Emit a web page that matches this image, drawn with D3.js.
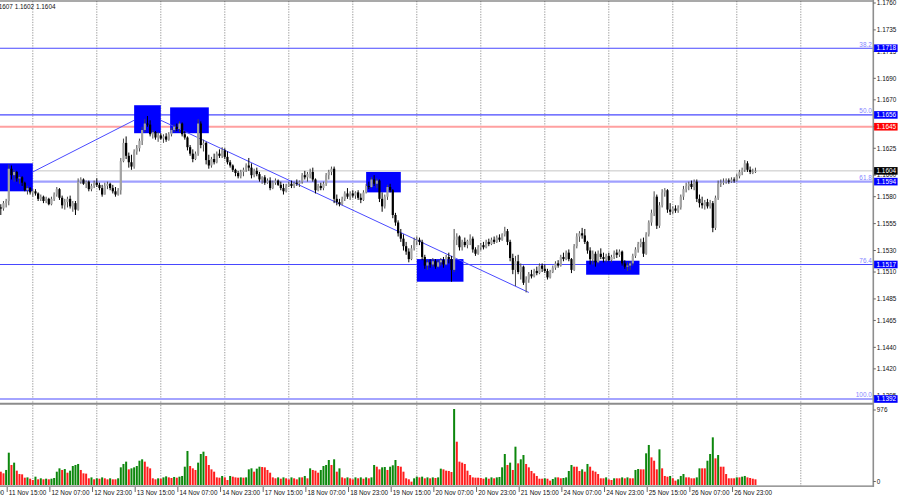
<!DOCTYPE html>
<html><head><meta charset="utf-8">
<script src="https://cdn.jsdelivr.net/npm/d3@7/dist/d3.min.js"></script>
<style>
body{margin:0;background:#fff}
svg{display:block}
text{font-family:"Liberation Sans",Arial,sans-serif}
</style>
</head><body>
<svg id="chart" width="900" height="500"></svg>
<script>
// ---------- DATA (prices in points above 1.0000, e.g. 1570 = 1.1570) ----------
const opens = [
1570,1569,1574,1576,1606,1600,1603,1597,1598,1593,
1586,1588,1584,1585,1583,1578,1580,1576,1578,1573,
1578,1582,1587,1579,1572,1575,1578,1571,1574,1568,
1594,1596,1592,1594,1587,1590,1593,1591,1588,1582,
1590,1592,1588,1585,1582,1586,1613,1630,1618,1612,
1608,1622,1625,1632,1642,1648,1647,1638,1640,1635,
1637,1634,1636,1633,1638,1642,1645,1643,1648,1638,
1635,1626,1620,1615,1620,1648,1628,1630,1614,1609,
1615,1612,1620,1618,1623,1617,1612,1609,1605,1602,
1599,1603,1605,1609,1607,1600,1604,1601,1596,1598,
1593,1595,1588,1593,1595,1591,1588,1585,1590,1592,
1590,1593,1592,1594,1600,1598,1601,1603,1596,1586,
1590,1588,1592,1600,1603,1606,1578,1575,1573,1578,
1583,1580,1583,1581,1584,1579,1577,1584,1590,1589,
1596,1592,1595,1578,1571,1580,1589,1586,1563,1556,
1546,1541,1534,1529,1522,1532,1539,1540,1538,1524,
1516,1519,1517,1520,1515,1519,1521,1517,1524,1522,
1512,1540,1543,1533,1538,1535,1539,1541,1531,1527,
1533,1535,1533,1538,1536,1540,1538,1542,1540,1545,
1548,1538,1523,1512,1520,1510,1515,1500,1503,1508,
1506,1511,1509,1516,1513,1511,1505,1510,1514,1518,
1516,1524,1522,1528,1522,1512,1534,1543,1546,1544,
1538,1530,1522,1527,1519,1527,1524,1522,1525,1521,
1524,1528,1526,1529,1518,1515,1516,1518,1525,1531,
1536,1538,1527,1545,1556,1565,1580,1553,1572,1584,
1586,1568,1566,1569,1567,1570,1580,1587,1590,1592,
1589,1594,1578,1574,1572,1575,1571,1574,1551,1579,
1592,1593,1594,1595,1594,1596,1595,1599,1603,1605,
1611,1605,1603,1603];
const highs = [
1573,1576,1578,1610,1609,1605,1604,1600,1599,1594,
1590,1589,1587,1587,1584,1582,1581,1580,1579,1580,
1584,1589,1588,1581,1578,1580,1581,1576,1576,1597,
1598,1597,1595,1595,1592,1595,1597,1593,1591,1593,
1594,1593,1591,1589,1588,1616,1634,1636,1621,1619,
1624,1628,1634,1645,1652,1655,1651,1642,1641,1640,
1639,1638,1639,1640,1644,1647,1648,1650,1649,1641,
1636,1628,1624,1622,1652,1650,1633,1631,1619,1617,
1620,1622,1624,1626,1625,1622,1614,1610,1606,1604,
1605,1607,1611,1616,1611,1606,1607,1603,1599,1600,
1597,1598,1595,1597,1596,1594,1592,1592,1594,1595,
1594,1596,1595,1602,1604,1603,1606,1607,1597,1592,
1593,1594,1602,1605,1608,1608,1582,1578,1580,1585,
1588,1585,1586,1585,1586,1583,1586,1592,1594,1598,
1600,1597,1596,1584,1582,1591,1592,1587,1565,1558,
1550,1545,1538,1532,1535,1542,1543,1542,1540,1526,
1521,1522,1523,1522,1521,1523,1524,1526,1528,1525,
1550,1546,1544,1540,1542,1540,1545,1543,1533,1535,
1537,1538,1540,1541,1542,1543,1544,1545,1546,1552,
1550,1540,1527,1525,1526,1518,1516,1506,1510,1512,
1513,1515,1518,1518,1517,1513,1512,1516,1520,1521,
1526,1528,1530,1531,1523,1536,1546,1548,1551,1550,
1539,1533,1530,1529,1530,1532,1528,1527,1528,1526,
1530,1531,1531,1530,1521,1519,1520,1527,1533,1538,
1541,1542,1547,1558,1568,1585,1582,1575,1587,1588,
1587,1574,1571,1572,1572,1582,1590,1593,1594,1595,
1596,1596,1582,1580,1577,1578,1577,1576,1581,1595,
1596,1597,1597,1597,1598,1598,1601,1605,1607,1614,
1613,1608,1606,1607];
const lows = [
1563,1567,1570,1572,1596,1594,1594,1592,1590,1585,
1582,1582,1580,1581,1576,1576,1574,1574,1572,1572,
1576,1580,1577,1569,1568,1570,1569,1566,1563,1567,
1592,1591,1588,1585,1585,1588,1589,1586,1580,1582,
1587,1586,1583,1580,1581,1582,1612,1615,1607,1605,
1606,1619,1622,1628,1640,1645,1636,1634,1633,1631,
1633,1630,1631,1632,1636,1640,1641,1640,1636,1633,
1623,1618,1612,1614,1618,1625,1622,1610,1606,1607,
1610,1611,1616,1616,1615,1610,1607,1603,1599,1597,
1597,1599,1603,1604,1597,1598,1599,1594,1592,1591,
1592,1586,1587,1591,1590,1586,1582,1584,1589,1588,
1588,1590,1589,1592,1596,1594,1597,1594,1583,1585,
1586,1586,1590,1596,1600,1574,1572,1571,1572,1576,
1578,1577,1579,1578,1577,1574,1576,1583,1587,1588,
1590,1588,1575,1566,1569,1577,1584,1560,1553,1543,
1538,1530,1526,1519,1521,1530,1535,1535,1521,1513,
1512,1514,1515,1513,1514,1516,1514,1516,1518,1501,
1510,1535,1530,1530,1533,1532,1535,1528,1525,1526,
1530,1531,1532,1534,1535,1536,1537,1538,1539,1543,
1535,1520,1508,1497,1508,1503,1498,1491,1500,1504,
1505,1507,1508,1510,1509,1503,1504,1509,1512,1514,
1515,1520,1521,1520,1509,1511,1532,1538,1541,1536,
1527,1517,1517,1515,1518,1522,1519,1519,1520,1519,
1522,1523,1524,1516,1513,1511,1512,1516,1523,1528,
1533,1524,1526,1543,1553,1562,1550,1551,1570,1580,
1565,1563,1564,1565,1565,1568,1577,1584,1586,1587,
1586,1575,1570,1569,1568,1569,1569,1547,1549,1577,
1589,1591,1592,1592,1593,1593,1594,1597,1600,1603,
1603,1601,1601,1602];
const closes = [
1569,1574,1576,1606,1600,1603,1597,1598,1593,1586,
1588,1584,1585,1583,1578,1580,1576,1578,1573,1578,
1582,1587,1579,1572,1575,1578,1571,1574,1568,1594,
1596,1592,1594,1587,1590,1593,1591,1588,1582,1590,
1592,1588,1585,1582,1586,1613,1630,1618,1612,1608,
1622,1625,1632,1642,1648,1647,1638,1640,1635,1637,
1634,1636,1633,1638,1642,1645,1643,1648,1638,1635,
1626,1620,1615,1620,1648,1628,1630,1614,1609,1615,
1612,1620,1618,1623,1617,1612,1609,1605,1602,1599,
1603,1605,1609,1607,1600,1604,1601,1596,1598,1593,
1595,1588,1593,1595,1591,1588,1585,1590,1592,1590,
1593,1592,1594,1600,1598,1601,1603,1596,1586,1590,
1588,1592,1600,1603,1606,1578,1575,1573,1578,1583,
1580,1583,1581,1584,1579,1577,1584,1590,1589,1596,
1592,1595,1578,1571,1580,1589,1586,1563,1556,1546,
1541,1534,1529,1522,1532,1539,1540,1538,1524,1516,
1519,1517,1520,1515,1519,1521,1517,1524,1522,1512,
1540,1543,1533,1538,1535,1539,1541,1531,1527,1533,
1535,1533,1538,1536,1540,1538,1542,1540,1545,1548,
1538,1523,1512,1520,1510,1515,1500,1503,1508,1506,
1511,1509,1516,1513,1511,1505,1510,1514,1518,1516,
1524,1522,1528,1522,1512,1534,1543,1546,1544,1538,
1530,1522,1527,1519,1527,1524,1522,1525,1521,1524,
1528,1526,1529,1518,1515,1516,1518,1525,1531,1536,
1538,1527,1545,1556,1565,1580,1553,1572,1584,1586,
1568,1566,1569,1567,1570,1580,1587,1590,1592,1589,
1594,1578,1574,1572,1575,1571,1574,1551,1579,1592,
1593,1594,1595,1594,1596,1595,1599,1603,1605,1611,
1605,1603,1603,1604];
const volumes = [
171,150,193,415,257,287,184,141,137,94,
98,81,64,107,73,86,73,81,73,81,
90,171,214,193,205,158,184,244,257,270,
193,150,146,86,98,73,86,81,98,86,
73,86,73,73,86,227,270,300,201,214,
227,244,312,330,300,235,214,86,73,86,
81,98,111,98,90,103,94,107,116,235,
437,244,214,193,287,398,428,372,257,201,
171,98,94,116,98,64,116,107,98,94,
98,94,98,201,214,171,210,235,231,227,
193,158,98,86,98,81,98,86,73,98,
86,73,98,98,116,86,214,193,184,158,
193,244,257,321,257,330,171,214,98,86,
98,86,73,98,86,98,81,98,86,98,
257,235,201,227,231,193,235,253,321,244,
235,171,86,73,43,86,107,98,107,86,
98,86,98,90,98,210,201,184,180,167,
976,556,300,287,270,184,128,98,94,94,
90,81,98,81,98,86,98,103,227,398,
257,287,193,492,278,330,385,270,227,180,
150,116,81,81,86,81,56,77,98,98,
86,90,98,180,257,235,235,180,201,171,
270,235,184,171,141,86,86,98,73,64,
86,86,86,98,86,98,86,86,193,205,
201,201,407,514,355,312,201,458,214,116,
107,116,86,56,73,116,141,98,98,86,
86,98,214,214,214,312,398,612,342,385,
235,235,141,86,86,86,98,98,107,116,
98,90,81,73];

// time axis labels (bar index, text)
const timeLabelBars = [-13,3,19,35,51,67,83,99,115,131,147,163,179,195,211,227,243,259,275];
const timeLabels = ["10 Nov 23:00","11 Nov 15:00","12 Nov 07:00","12 Nov 23:00","13 Nov 15:00",
  "14 Nov 07:00","14 Nov 23:00","17 Nov 15:00","18 Nov 07:00","18 Nov 23:00","19 Nov 15:00",
  "20 Nov 07:00","20 Nov 23:00","21 Nov 15:00","24 Nov 07:00","24 Nov 23:00","25 Nov 15:00",
  "26 Nov 07:00","26 Nov 23:00"];
// day-start bars (vertical grid)
const dayStartBars = [12,36,60,84,108,132,156,180,204,228,252,276,300];
// price axis tick labels
const priceTicks = ["1.1760","1.1735","1.1715","1.1690","1.1670","1.1645","1.1625","1.1600",
  "1.1580","1.1555","1.1530","1.1510","1.1485","1.1465","1.1440","1.1420","1.1395"];
// Fibonacci levels
const fibPrices = [1.1718, 1.1656, 1.1594, 1.1517, 1.1392];
const fibNames = ["38.2","50.0","61.8","76.4","100.0"];
const resistancePrice = 1.1645;
const lastPrice = 1.1604;
const volumeMax = 976;
// blue zones: [start bar, end bar], [low price, high price]
const zoneStart = [-1, 50, 63.5, 137, 156, 219.5];
const zoneEnd   = [12, 60, 78, 150, 173.5, 239.5];
const zoneLow   = [1.1585, 1.1639, 1.1639, 1.1584, 1.1501, 1.15075];
const zoneHigh  = [1.1611, 1.1665, 1.1663, 1.1603, 1.1522, 1.15205];
// trend lines: start/end [bar, price]
const trendStart = [[12, 1.1603], [60, 1.1651]];
const trendEnd   = [[50, 1.1651], [198, 1.1491]];
const headerText = "EURUSD,H1  1.1603 1.1607 1.1602 1.1604";

// ---------- RENDER ----------
const P = v => 1 + v / 10000;
const n = closes.length;
const svg = d3.select('#chart');
const x = d3.scaleLinear().domain([0, 300]).range([0.8, 800.8]);
const y = d3.scaleLinear().domain([1.1392, 1.1760]).range([399, 3]);
const yv = d3.scaleLinear().domain([0, volumeMax]).range([485, 409]);
const AX = 873.3;
const FS = 6.4;

const defs = svg.append('defs');
defs.append('clipPath').attr('id','cm').append('rect').attr('x',0).attr('y',1).attr('width',AX-0.5).attr('height',402);
defs.append('clipPath').attr('id','cv').append('rect').attr('x',0).attr('y',405).attr('width',AX-0.5).attr('height',81);
const main = svg.append('g').attr('clip-path','url(#cm)');
const vol = svg.append('g').attr('clip-path','url(#cv)');

// grid
[[main,1,403],[vol,405,486]].forEach(([g,a,b]) => {
  g.append('g').selectAll('line').data(dayStartBars).join('line')
    .attr('x1',d=>x(d)).attr('x2',d=>x(d)).attr('y1',a).attr('y2',b)
    .attr('stroke','#9a9a9a').attr('stroke-width',1).attr('stroke-dasharray','1.3,1.3');
});

// horizontal levels
const fibColor = ['#4848ff','#4848ff','#a0a0ff','#4848ff','#a4a4ff'];
const fibWidth = [1.1,1.1,2.4,1.1,2.1];
main.append('g').selectAll('line').data(fibPrices).join('line')
  .attr('x1',0).attr('x2',AX).attr('y1',d=>y(d)).attr('y2',d=>y(d))
  .attr('stroke',(d,i)=>fibColor[i]).attr('stroke-width',(d,i)=>fibWidth[i]);
main.append('line').attr('x1',0).attr('x2',AX).attr('y1',y(resistancePrice)).attr('y2',y(resistancePrice))
  .attr('stroke','#ffa0a0').attr('stroke-width',2.2);
main.append('line').attr('x1',0).attr('x2',AX).attr('y1',y(lastPrice)).attr('y2',y(lastPrice))
  .attr('stroke','#c6c6c6').attr('stroke-width',1);

// zones
main.append('g').selectAll('rect').data(zoneStart).join('rect')
  .attr('x',(d,i)=>x(zoneStart[i])).attr('width',(d,i)=>x(zoneEnd[i])-x(zoneStart[i]))
  .attr('y',(d,i)=>y(zoneHigh[i])).attr('height',(d,i)=>y(zoneLow[i])-y(zoneHigh[i]))
  .attr('fill','#0000ff');

// trend lines
main.append('g').selectAll('line').data(trendStart).join('line')
  .attr('x1',d=>x(d[0])).attr('y1',d=>y(d[1]))
  .attr('x2',(d,i)=>x(trendEnd[i][0])).attr('y2',(d,i)=>y(trendEnd[i][1]))
  .attr('stroke','#4a4aff').attr('stroke-width',1);

// candles
const idx = d3.range(n);
const cg = main.append('g');
cg.selectAll('line').data(idx).join('line')
  .attr('x1',i=>x(i)).attr('x2',i=>x(i))
  .attr('y1',i=>y(P(highs[i]))).attr('y2',i=>y(P(lows[i])))
  .attr('stroke',i=>closes[i]>=opens[i]?'#4a4a4a':'#000').attr('stroke-width',1);
cg.selectAll('rect').data(idx).join('rect')
  .attr('x',i=>x(i)-1.1).attr('width',2.2)
  .attr('y',i=>y(P(Math.max(opens[i],closes[i]))))
  .attr('height',i=>Math.max(1, y(P(Math.min(opens[i],closes[i])))-y(P(Math.max(opens[i],closes[i])))))
  .attr('fill',i=>closes[i]>=opens[i]?'#a2a2a2':'#000');

// volumes
vol.append('g').selectAll('rect').data(idx).join('rect')
  .attr('x',i=>x(i)-1).attr('width',2)
  .attr('y',i=>yv(volumes[i])).attr('height',i=>yv(0)-yv(volumes[i]))
  .attr('fill',i=>(i>0 && volumes[i]>volumes[i-1])?'#0c870c':'#ff1c1c');

// frames
svg.append('line').attr('x1',0).attr('x2',AX).attr('y1',1).attr('y2',1).attr('stroke','#555').attr('stroke-width',1.2);
svg.append('line').attr('x1',0).attr('x2',AX).attr('y1',403.8).attr('y2',403.8).attr('stroke','#8c8c8c').attr('stroke-width',2);
svg.append('line').attr('x1',0).attr('x2',AX).attr('y1',486.2).attr('y2',486.2).attr('stroke','#7a7a7a').attr('stroke-width',1.3);
svg.append('line').attr('x1',AX).attr('x2',AX).attr('y1',0).attr('y2',487).attr('stroke','#8e8e8e').attr('stroke-width',1.6);

// price axis
const pa = svg.append('g');
pa.selectAll('line').data(priceTicks).join('line')
  .attr('x1',AX).attr('x2',AX+2.5).attr('y1',d=>y(+d)).attr('y2',d=>y(+d)).attr('stroke','#666');
pa.selectAll('text').data(priceTicks).join('text')
  .attr('x',AX+3.5).attr('y',d=>y(+d)).attr('dy','0.35em').attr('font-size',FS).attr('fill','#111').text(d=>d);

// price boxes
const boxes = fibPrices.map(p=>({p, c:'#0000ff'}))
  .concat([{p:resistancePrice,c:'#ff0000'},{p:lastPrice,c:'#000'}]);
const bg = svg.append('g').selectAll('g').data(boxes).join('g');
bg.append('rect').attr('x',AX+0.8).attr('width',23.5).attr('y',d=>y(d.p)-3.8).attr('height',7.6).attr('fill',d=>d.c);
bg.append('text').attr('x',AX+3.2).attr('y',d=>y(d.p)).attr('dy','0.35em').attr('font-size',FS).attr('fill','#fff')
  .text(d=>d.p.toFixed(4));

// fib labels
svg.append('g').selectAll('text').data(fibPrices).join('text')
  .attr('x',AX-1.5).attr('y',d=>y(d)-1.6).attr('text-anchor','end').attr('font-size',FS).attr('fill','#8585ff')
  .text((d,i)=>fibNames[i]);

// volume axis
[volumeMax,0].forEach(v=>{
  const yy = v===0 ? yv(0)-3.5 : yv(v)+1;
  svg.append('line').attr('x1',AX).attr('x2',AX+2.5).attr('y1',yy).attr('y2',yy).attr('stroke','#666');
  svg.append('text').attr('x',AX+3.5).attr('y',yy).attr('dy','0.35em').attr('font-size',FS).attr('fill','#111').text(v);
});

// time axis
const ta = svg.append('g');
ta.selectAll('line').data(timeLabelBars).join('line')
  .attr('x1',d=>x(d)-1.6).attr('x2',d=>x(d)-1.6).attr('y1',487).attr('y2',492).attr('stroke','#444').attr('stroke-width',0.8);
ta.selectAll('text').data(timeLabelBars).join('text')
  .attr('x',d=>x(d)).attr('y',494.5).attr('font-size',FS).attr('fill','#111')
  .text((d,i)=>timeLabels[i]);

// header
svg.append('text').attr('x',55.5).attr('y',8.5).attr('text-anchor','end').attr('font-size',FS).attr('fill','#111').text(headerText);
</script>
</body></html>
